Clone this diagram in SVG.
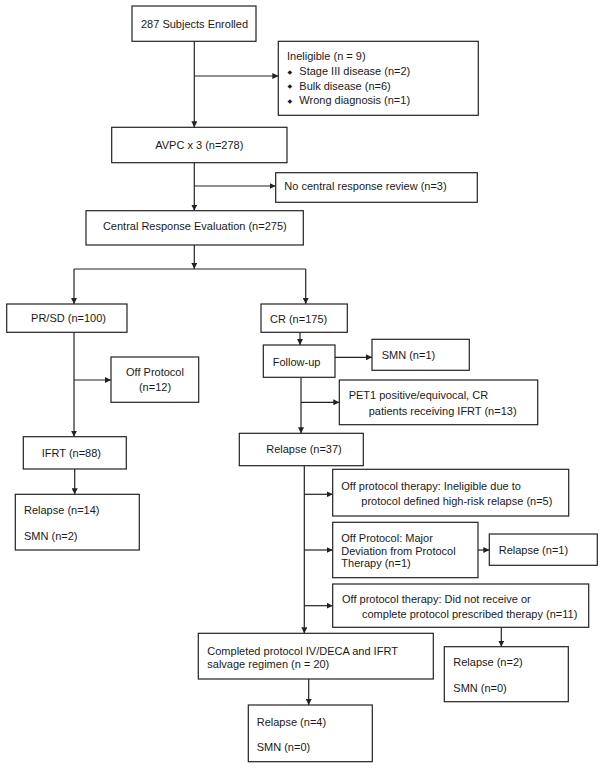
<svg xmlns="http://www.w3.org/2000/svg" width="604" height="768" viewBox="0 0 604 768">
<style>
  .box { fill: #ffffff; stroke: #222222; stroke-width: 1.2; }
  .t { font-family: "Liberation Sans", Arial, sans-serif; font-size: 11px; fill: #1a1a1a; }
  .c { text-anchor: middle; }
  .b { font-family: "DejaVu Sans", sans-serif; font-size: 6px; fill: #1a1a1a; }
  .ln { fill: none; stroke: #222222; stroke-width: 1.2; }
  .ar { fill: none; stroke: #222222; stroke-width: 1.2; marker-end: url(#arrow); }
</style>
<defs>
  <marker id="arrow" viewBox="0 0 8 8" refX="8" refY="4" markerWidth="6" markerHeight="6" markerUnits="userSpaceOnUse" orient="auto">
    <path d="M0,0 L8,4 L0,8 Z" fill="#222222"/>
  </marker>
</defs>
<rect x="0" y="0" width="604" height="768" fill="#ffffff"/>

<g id="connectors">
  <line class="ar" x1="194.3" y1="41.3" x2="194.3" y2="127.3"/>
  <line class="ar" x1="194.3" y1="76" x2="278.3" y2="76"/>
  <line class="ar" x1="194.3" y1="162.7" x2="194.3" y2="210.7"/>
  <line class="ar" x1="194.3" y1="186" x2="275.7" y2="186"/>
  <line class="ar" x1="194.3" y1="245" x2="194.3" y2="269"/>
  <line class="ln" x1="74" y1="269" x2="305.7" y2="269"/>
  <line class="ar" x1="74" y1="269" x2="74" y2="304"/>
  <line class="ar" x1="305.7" y1="269" x2="305.7" y2="304"/>
  <line class="ar" x1="74" y1="332.3" x2="74" y2="436.7"/>
  <line class="ar" x1="74" y1="380" x2="111" y2="380"/>
  <line class="ar" x1="74.7" y1="469" x2="74.7" y2="494.3"/>
  <line class="ar" x1="300" y1="332.3" x2="300" y2="345"/>
  <line class="ar" x1="335" y1="357.3" x2="372" y2="357.3"/>
  <line class="ar" x1="301" y1="377.3" x2="301" y2="433.3"/>
  <line class="ar" x1="301" y1="402.3" x2="339.3" y2="402.3"/>
  <line class="ar" x1="304.3" y1="465.7" x2="304.3" y2="633.3"/>
  <line class="ar" x1="304.3" y1="494.3" x2="332.7" y2="494.3"/>
  <line class="ar" x1="304.3" y1="550" x2="332.7" y2="550"/>
  <line class="ar" x1="304.3" y1="605.7" x2="332.7" y2="605.7"/>
  <line class="ar" x1="478" y1="550" x2="489.3" y2="550"/>
  <line class="ar" x1="501.3" y1="627.3" x2="501.3" y2="646.7"/>
  <line class="ar" x1="308.7" y1="679" x2="308.7" y2="705"/>
</g>

<g id="enrolled">
  <rect class="box" x="132" y="6" width="124" height="35.3"/>
  <text class="t c" x="194.5" y="27.5">287 Subjects Enrolled</text>
</g>
<g id="ineligible">
  <rect class="box" x="278.3" y="41.3" width="200" height="74"/>
  <text class="t" x="287" y="60">Ineligible (n = 9)</text>
  <text class="b" x="287.5" y="73.5">◆</text>
  <text class="t" x="299.3" y="75">Stage III disease (n=2)</text>
  <text class="b" x="287.5" y="88">◆</text>
  <text class="t" x="299.3" y="89.5">Bulk disease (n=6)</text>
  <text class="b" x="287.5" y="102.5">◆</text>
  <text class="t" x="299.3" y="104">Wrong diagnosis (n=1)</text>
</g>
<g id="avpc">
  <rect class="box" x="111.7" y="127.3" width="175.3" height="35.4"/>
  <text class="t c" x="199.3" y="148.5">AVPC x 3 (n=278)</text>
</g>
<g id="nocentral">
  <rect class="box" x="275.7" y="172.7" width="201.6" height="29.6"/>
  <text class="t" x="284.3" y="189.5">No central response review (n=3)</text>
</g>
<g id="central">
  <rect class="box" x="86" y="210.7" width="217.3" height="34.3"/>
  <text class="t c" x="194.8" y="229.5">Central Response Evaluation (n=275)</text>
</g>
<g id="prsd">
  <rect class="box" x="6.7" y="304" width="120.3" height="28.3"/>
  <text class="t c" x="68.5" y="322">PR/SD (n=100)</text>
</g>
<g id="offprotocol">
  <rect class="box" x="111" y="357" width="87.7" height="45.3"/>
  <text class="t c" x="155" y="375.5">Off Protocol</text>
  <text class="t c" x="155" y="391">(n=12)</text>
</g>
<g id="ifrt">
  <rect class="box" x="23.3" y="436.7" width="103" height="32.3"/>
  <text class="t c" x="71.4" y="456.5">IFRT (n=88)</text>
</g>
<g id="relapse14">
  <rect class="box" x="15.3" y="494.3" width="124" height="55.7"/>
  <text class="t" x="24" y="513.5">Relapse (n=14)</text>
  <text class="t" x="24" y="539.5">SMN (n=2)</text>
</g>
<g id="cr">
  <rect class="box" x="261" y="304" width="86.3" height="28.3"/>
  <text class="t" x="270" y="322.5">CR (n=175)</text>
</g>
<g id="followup">
  <rect class="box" x="263.3" y="345" width="71.7" height="32.3"/>
  <text class="t" x="272.7" y="365.5">Follow-up</text>
</g>
<g id="smn1">
  <rect class="box" x="372" y="339.3" width="97.3" height="31"/>
  <text class="t" x="381.7" y="358.5">SMN (n=1)</text>
</g>
<g id="pet1">
  <rect class="box" x="339.3" y="380" width="198.4" height="44.7"/>
  <text class="t" x="348.7" y="399">PET1 positive/equivocal, CR</text>
  <text class="t" x="368.7" y="414.5">patients receiving IFRT (n=13)</text>
</g>
<g id="relapse37">
  <rect class="box" x="239.3" y="433.3" width="124" height="32.4"/>
  <text class="t c" x="304" y="453">Relapse (n=37)</text>
</g>
<g id="ineligible5">
  <rect class="box" x="332.7" y="469.3" width="236" height="46.7"/>
  <text class="t" x="341.3" y="489.5">Off protocol therapy: Ineligible due to</text>
  <text class="t" x="361.3" y="504.5">protocol defined high-risk relapse (n=5)</text>
</g>
<g id="majordev">
  <rect class="box" x="332.7" y="522.3" width="145.3" height="55.4"/>
  <text class="t" x="341.3" y="542">Off Protocol: Major</text>
  <text class="t" x="341.3" y="554.5">Deviation from Protocol</text>
  <text class="t" x="341.3" y="567">Therapy (n=1)</text>
</g>
<g id="relapse1">
  <rect class="box" x="489.3" y="534" width="108" height="31.3"/>
  <text class="t" x="498.7" y="554">Relapse (n=1)</text>
</g>
<g id="didnot">
  <rect class="box" x="332.7" y="584" width="256" height="43.3"/>
  <text class="t" x="342" y="602.5">Off protocol therapy: Did not receive or</text>
  <text class="t" x="362" y="617.5">complete protocol prescribed therapy (n=11)</text>
</g>
<g id="completed">
  <rect class="box" x="198.3" y="633.3" width="235" height="45.7"/>
  <text class="t" x="207.3" y="654.5">Completed protocol IV/DECA and IFRT</text>
  <text class="t" x="207.3" y="667.5">salvage regimen (n = 20)</text>
</g>
<g id="relapse2">
  <rect class="box" x="444.3" y="646.7" width="124" height="55"/>
  <text class="t" x="453.3" y="666">Relapse (n=2)</text>
  <text class="t" x="453.3" y="692">SMN (n=0)</text>
</g>
<g id="relapse4">
  <rect class="box" x="248.3" y="705" width="124" height="56.7"/>
  <text class="t" x="256.7" y="726">Relapse (n=4)</text>
  <text class="t" x="256.7" y="751">SMN (n=0)</text>
</g>
</svg>
